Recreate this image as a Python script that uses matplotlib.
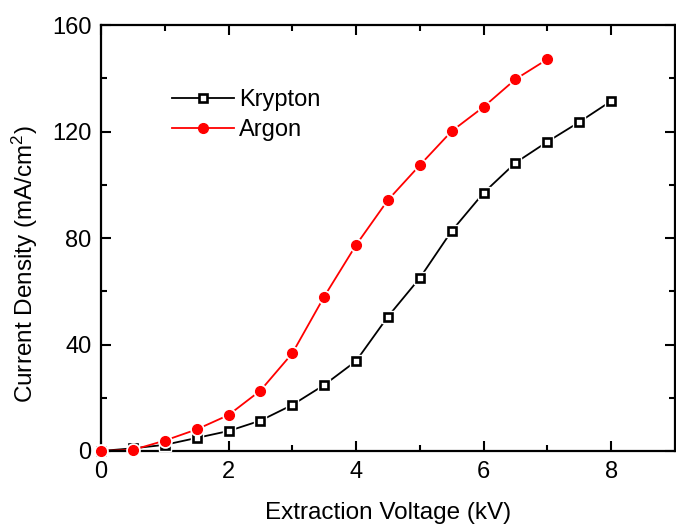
import numpy as np
import matplotlib.pyplot as plt

plt.rcParams['font.family'] = ['Liberation Sans', 'DejaVu Sans']
plt.rcParams['mathtext.default'] = 'regular'

# extraction voltage (kV) and current density (mA/cm^2)
kr_v = [0, 0.5, 1.0, 1.5, 2.0, 2.5, 3.0, 3.5, 4.0, 4.5, 5.0, 5.5, 6.0, 6.5, 7.0, 7.5, 8.0]
kr_j = [0, 1.0, 2.3, 4.9, 7.5, 11.4, 17.3, 24.8, 33.8, 50.5, 65.0, 82.7, 97.0, 108.3, 116.2, 123.6, 131.5]

ar_v = [0, 0.5, 1.0, 1.5, 2.0, 2.5, 3.0, 3.5, 4.0, 4.5, 5.0, 5.5, 6.0, 6.5, 7.0]
ar_j = [0, 0.4, 3.9, 8.1, 13.5, 22.7, 36.7, 58.0, 77.4, 94.3, 107.4, 120.2, 129.3, 139.7, 147.2]

fig = plt.figure(figsize=(6.76, 5.25), dpi=100)
ax = fig.add_axes([0.1494, 0.141, 0.849, 0.811])

# lines (with markers, used for the legend)
kr_line, = ax.plot(kr_v, kr_j, color='black', lw=1.3, marker='s', ms=5.5,
                   mfc='white', mec='black', mew=1.9, label='Krypton', zorder=2)
ar_line, = ax.plot(ar_v, ar_j, color='red', lw=1.3, marker='o', ms=7,
                   mfc='red', mec='red', label='Argon', zorder=2)

# white halo so the line stops short of each marker
ax.plot(kr_v, kr_j, ls='none', marker='s', ms=8.5, color='white', zorder=3, clip_on=False)
ax.plot(kr_v, kr_j, ls='none', marker='s', ms=5.5, mfc='white', mec='black',
        mew=1.9, zorder=4, clip_on=False)
ax.plot(ar_v, ar_j, ls='none', marker='o', ms=9.5, color='white', zorder=5, clip_on=False)
ax.plot(ar_v, ar_j, ls='none', marker='o', ms=7, color='red', zorder=6, clip_on=False)

ax.set_xlim(0, 9)
ax.set_ylim(0, 160)
ax.set_xticks([0, 2, 4, 6, 8])
ax.set_xticks([1, 3, 5, 7], minor=True)
ax.set_yticks([0, 40, 80, 120, 160])
ax.set_yticks([20, 60, 100, 140], minor=True)
ax.tick_params(which='both', direction='in', top=True, right=True, width=1.5,
               labelsize=17)
ax.tick_params(which='major', length=7, pad=7)
ax.tick_params(which='minor', length=4)
for s in ax.spines.values():
    s.set_linewidth(1.6)

ax.set_xlabel('Extraction Voltage (kV)', fontsize=17.5, labelpad=14)
ax.set_ylabel('Current Density (mA/cm$^2$)', fontsize=17.5)
ax.yaxis.set_label_coords(-0.106, 0.439)

ax.legend(handles=[kr_line, ar_line], loc='upper left',
          bbox_to_anchor=(0.124, 0.85), borderaxespad=0, borderpad=0,
          frameon=False, fontsize=17, handlelength=2.6, handletextpad=0.25,
          labelspacing=0.35)

fig.savefig('out.png', dpi=100)
